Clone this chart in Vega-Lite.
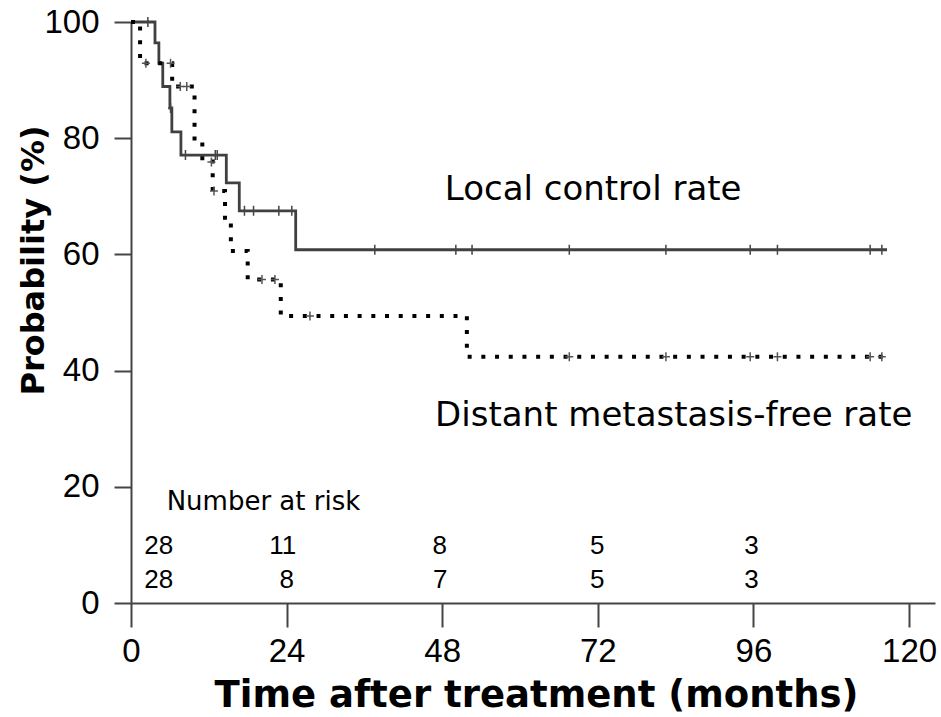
{
  "$schema": "https://vega.github.io/schema/vega-lite/v6.json",
  "autosize": "none",
  "width": 804,
  "height": 581,
  "padding": {"left": 131, "top": 22, "right": 6, "bottom": 114},
  "background": "white",
  "config": {
    "view": {"stroke": null},
    "axis": {"grid": false, "domainColor": "#444", "domainWidth": 2, "tickColor": "#444", "tickWidth": 2, "labelColor": "#000", "titleColor": "#000", "labelFont": "Liberation Sans", "labelFontSize": 33, "titleFont": "DejaVu Sans", "titleFontWeight": "bold"}
  },
  "datasets": {
    "lc": [
      {"t": 0, "s": 100}, {"t": 3.7, "s": 96.4}, {"t": 4.3, "s": 92.9}, {"t": 4.9, "s": 88.9},
      {"t": 6.0, "s": 85.2}, {"t": 6.3, "s": 81.1}, {"t": 7.7, "s": 77.1}, {"t": 14.7, "s": 72.3},
      {"t": 16.7, "s": 67.5}, {"t": 25.4, "s": 60.8}, {"t": 116.6, "s": 60.8}
    ],
    "dm": [
      {"t": 0, "s": 100}, {"t": 1.4, "s": 92.9}, {"t": 6.35, "s": 88.9}, {"t": 9.8, "s": 79.5},
      {"t": 11.0, "s": 76.0}, {"t": 12.6, "s": 70.9}, {"t": 14.5, "s": 66.3}, {"t": 15.4, "s": 60.6},
      {"t": 18.0, "s": 55.7}, {"t": 23.1, "s": 49.4}, {"t": 51.8, "s": 42.4}, {"t": 116.6, "s": 42.4}
    ],
    "lcCens": [
      {"t": 2.6, "s": 100}, {"t": 6.1, "s": 85.2}, {"t": 8.4, "s": 77.1}, {"t": 13.0, "s": 77.1}, {"t": 13.3, "s": 77.1},
      {"t": 17.5, "s": 67.5}, {"t": 18.9, "s": 67.5}, {"t": 22.8, "s": 67.5}, {"t": 24.8, "s": 67.5},
      {"t": 37.6, "s": 60.8}, {"t": 50.1, "s": 60.8}, {"t": 52.6, "s": 60.8}, {"t": 67.6, "s": 60.8},
      {"t": 82.5, "s": 60.8}, {"t": 95.5, "s": 60.8}, {"t": 99.7, "s": 60.8}, {"t": 114.0, "s": 60.8}, {"t": 115.8, "s": 60.8}
    ],
    "dmCens": [
      {"t": 2.3, "s": 92.9}, {"t": 6.1, "s": 92.9}, {"t": 7.6, "s": 88.9}, {"t": 8.6, "s": 88.9},
      {"t": 12.4, "s": 75.9}, {"t": 12.8, "s": 70.9}, {"t": 20.2, "s": 55.7}, {"t": 22.2, "s": 55.7},
      {"t": 27.6, "s": 49.4}, {"t": 67.6, "s": 42.4}, {"t": 82.5, "s": 42.4}, {"t": 95.5, "s": 42.4},
      {"t": 99.7, "s": 42.4}, {"t": 114.0, "s": 42.4}, {"t": 115.8, "s": 42.4}
    ],
    "curveLabels": [
      {"t": 48.4, "s": 69.4, "label": "Local control rate"},
      {"t": 46.9, "s": 30.4, "label": "Distant metastasis-free rate"}
    ],
    "riskTitle": [
      {"t": 5.5, "s": 16.0, "label": "Number at risk"}
    ],
    "risk": [
      {"t": 4.27, "s": 8.5, "label": "28"}, {"t": 23.4, "s": 8.5, "label": "11"}, {"t": 47.6, "s": 8.5, "label": "8"},
      {"t": 71.9, "s": 8.5, "label": "5"}, {"t": 95.7, "s": 8.5, "label": "3"},
      {"t": 4.27, "s": 2.5, "label": "28"}, {"t": 24.0, "s": 2.5, "label": "8"}, {"t": 47.7, "s": 2.5, "label": "7"},
      {"t": 71.9, "s": 2.5, "label": "5"}, {"t": 95.7, "s": 2.5, "label": "3"}
    ]
  },
  "encoding": {
    "x": {
      "field": "t", "type": "quantitative",
      "scale": {"domain": [0, 124], "nice": false, "zero": false},
      "axis": {"title": "Time after treatment (months)", "values": [0, 24, 48, 72, 96, 120], "tickSize": 24, "labelPadding": 8, "labelFlush": false, "titleFontSize": 37, "titleBaseline": "alphabetic", "titleY": 103, "titleX": 405}
    },
    "y": {
      "field": "s", "type": "quantitative",
      "scale": {"domain": [0, 100], "nice": false},
      "axis": {"title": "Probability (%)", "values": [0, 20, 40, 60, 80, 100], "tickSize": 17, "labelPadding": 15, "titleFontSize": 32, "titleAngle": -90, "titleAlign": "center", "titleBaseline": "alphabetic", "titleX": -88, "titleY": 238}
    }
  },
  "layer": [
    {"data": {"name": "lc"}, "mark": {"type": "line", "interpolate": "step-after", "color": "#404040", "strokeWidth": 2.8}},
    {"data": {"name": "dm"}, "mark": {"type": "line", "interpolate": "step-after", "color": "#000", "strokeWidth": 4, "strokeDash": [4, 9.7], "strokeCap": "butt"}},
    {"data": {"name": "lcCens"}, "mark": {"type": "point", "shape": "M0,-1V1M-0.5,0H0.5", "size": 100, "filled": false, "stroke": "#444", "strokeWidth": 1.5, "opacity": 1}},
    {"data": {"name": "dmCens"}, "mark": {"type": "point", "shape": "M0,-0.9V0.9M-0.8,0H0.8", "size": 100, "filled": false, "stroke": "#555", "strokeWidth": 1.5, "opacity": 1}},
    {"data": {"name": "curveLabels"}, "mark": {"type": "text", "align": "left", "baseline": "alphabetic", "font": "DejaVu Sans", "fontSize": 34, "color": "#000"}, "encoding": {"text": {"field": "label"}}},
    {"data": {"name": "riskTitle"}, "mark": {"type": "text", "align": "left", "baseline": "alphabetic", "font": "DejaVu Sans", "fontSize": 26, "color": "#000"}, "encoding": {"text": {"field": "label"}}},
    {"data": {"name": "risk"}, "mark": {"type": "text", "align": "center", "baseline": "alphabetic", "font": "Liberation Sans", "fontSize": 26, "color": "#000"}, "encoding": {"text": {"field": "label"}}}
  ]
}
